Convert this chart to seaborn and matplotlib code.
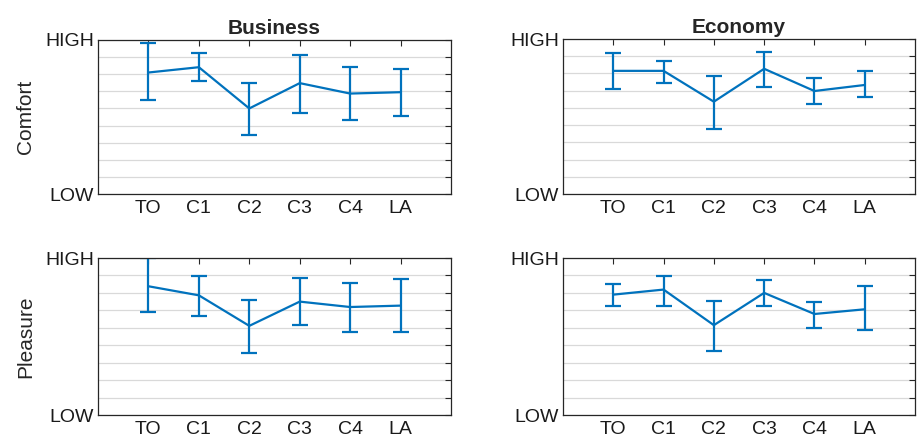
import numpy as np
import matplotlib
matplotlib.use('Agg')
import matplotlib.pyplot as plt
import seaborn as sns

# ── data (scale 1 = LOW .. 10 = HIGH) ────────────────────────────────────────
categories = ['TO', 'C1', 'C2', 'C3', 'C4', 'LA']

bus_comfort_mean = [8.10, 8.41, 6.00, 7.48, 6.87, 6.95]
bus_comfort_lo   = [6.47, 7.59, 4.43, 5.75, 5.34, 5.55]
bus_comfort_hi   = [9.84, 9.22, 7.48, 9.11, 8.41, 8.29]

eco_comfort_mean = [8.15, 8.15, 6.36, 8.27, 6.98, 7.33]
eco_comfort_lo   = [7.12, 7.43, 4.79, 7.22, 6.21, 6.61]
eco_comfort_hi   = [9.18, 8.74, 7.84, 9.26, 7.76, 8.15]

bus_pleasure_mean = [8.38, 7.86, 6.11, 7.50, 7.19, 7.27]
bus_pleasure_lo   = [6.89, 6.68, 4.58, 6.18, 5.78, 5.78]
bus_pleasure_hi   = [10.0, 8.99, 7.58, 8.87, 8.57, 8.78]

eco_pleasure_mean = [7.90, 8.19, 6.15, 8.00, 6.79, 7.06]
eco_pleasure_lo   = [7.27, 7.27, 4.68, 7.27, 5.97, 5.88]
eco_pleasure_hi   = [8.49, 8.99, 7.56, 8.76, 7.46, 8.38]

# ── style ────────────────────────────────────────────────────────────────────
sns.set_style('white')
plt.rcParams['font.family'] = ['Liberation Sans', 'DejaVu Sans']
blue = '#0072BD'
W, H = 919, 444

fig = plt.figure(figsize=(W / 100, H / 100), dpi=100)

def add_axes(x0, y0, x1, y1):
    return fig.add_axes([x0 / W, 1 - y1 / H, (x1 - x0) / W, (y1 - y0) / H])

panels = [
    ((98, 40, 451, 194), bus_comfort_mean, bus_comfort_lo, bus_comfort_hi, 'Business', 'Comfort'),
    ((563, 39, 915, 194), eco_comfort_mean, eco_comfort_lo, eco_comfort_hi, 'Economy', None),
    ((98, 258, 451, 415), bus_pleasure_mean, bus_pleasure_lo, bus_pleasure_hi, None, 'Pleasure'),
    ((563, 258, 915, 415), eco_pleasure_mean, eco_pleasure_lo, eco_pleasure_hi, None, None),
]

for box, mean, lo, hi, title, ylabel in panels:
    ax = add_axes(*box)
    mean = np.array(mean)
    yerr = [mean - np.array(lo), np.array(hi) - mean]
    sns.lineplot(x=categories, y=mean, ax=ax, color=blue, linewidth=1.6, sort=False)
    ax.errorbar(categories, mean, yerr=yerr, fmt='none', ecolor=blue,
                elinewidth=1.6, capsize=5.5, capthick=1.6, clip_on=True)
    ax.set_xlim(-1, 6)
    ax.set_ylim(1, 10)
    ax.set_yticks(np.arange(1, 11))
    ax.set_yticklabels(['LOW'] + [''] * 8 + ['HIGH'])
    ax.grid(axis='y', color='#d9d9d9', linewidth=0.9)
    ax.set_axisbelow(True)
    ax.tick_params(direction='in', length=4, width=0.8, color='#262626',
                   labelsize=14, labelcolor='#1a1a1a', top=True, right=True, pad=4)
    ax.tick_params(axis='y', pad=3)
    for spine in ax.spines.values():
        spine.set_edgecolor('#262626')
        spine.set_linewidth(0.9)
    ax.set_xlabel('')
    if title:
        ax.set_title(title, fontsize=15, fontweight='bold', pad=4)
    if ylabel:
        ax.set_ylabel(ylabel, fontsize=15, labelpad=7)

fig.savefig('out.png', dpi=100, facecolor='white')
